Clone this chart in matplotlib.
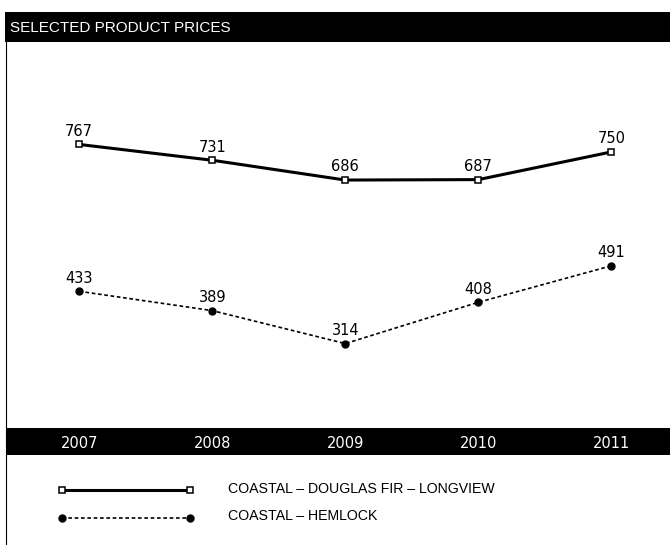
import matplotlib.pyplot as plt
from matplotlib.lines import Line2D

years = [2007, 2008, 2009, 2010, 2011]
douglas_fir = [767, 731, 686, 687, 750]
hemlock = [433, 389, 314, 408, 491]
series_names = ["COASTAL \u2013 DOUGLAS FIR \u2013 LONGVIEW", "COASTAL \u2013 HEMLOCK"]
title = "SELECTED PRODUCT PRICES"

W, H = 670, 545
fig = plt.figure(figsize=(W / 100, H / 100), dpi=100)
fig.patch.set_facecolor("white")


def box(x0, y0, x1, y1):
    # pixel box (top-left origin) -> figure fraction rect
    return [x0 / W, 1 - y1 / H, (x1 - x0) / W, (y1 - y0) / H]


narrow = ["Liberation Sans Narrow", "Liberation Sans", "DejaVu Sans"]

# title bar
tax = fig.add_axes(box(5, 12, 670, 42))
tax.set_facecolor("black")
tax.set_xticks([])
tax.set_yticks([])
for s in tax.spines.values():
    s.set_visible(False)
tax.text(0.008, 0.47, title, color="white", fontsize=11, family=narrow,
         va="center", ha="left", transform=tax.transAxes)

# main plot
ax = fig.add_axes(box(6, 42, 670, 428))
ax.set_xlim(2006.45, 2011.44)
ax.set_ylim(122, 1000)
ax.axis("off")

ax.plot(years, douglas_fir, color="black", lw=2.2, marker="s", ms=5,
        mfc="white", mec="black", mew=1.1, zorder=3)
ax.plot(years, hemlock, color="black", lw=1.2, linestyle=(0, (2.2, 1.6)),
        marker="o", ms=5, mfc="black", mec="black", zorder=3)

for x, v in zip(years, douglas_fir):
    ax.annotate(str(v), (x, v), xytext=(0, 4), textcoords="offset points",
                ha="center", va="bottom", fontsize=10.5, family="DejaVu Sans")
for x, v in zip(years, hemlock):
    ax.annotate(str(v), (x, v), xytext=(0, 4), textcoords="offset points",
                ha="center", va="bottom", fontsize=10.5, family="DejaVu Sans")

# year bar
yax = fig.add_axes(box(6, 428, 670, 455), sharex=ax)
yax.set_facecolor("black")
yax.set_ylim(0, 1)
yax.set_xticks([])
yax.set_yticks([])
for s in yax.spines.values():
    s.set_visible(False)
for x in years:
    yax.text(x, 0.42, str(x), color="white", fontsize=10.5, ha="center",
             va="center", family="DejaVu Sans")

# legend area
lax = fig.add_axes(box(0, 455, 670, 545))
lax.set_xlim(0, W)
lax.set_ylim(H, 455)
lax.axis("off")
lax.add_line(Line2D([62, 190], [490, 490], color="black", lw=2.2, marker="s",
                    ms=5, mfc="white", mec="black", mew=1.1))
lax.add_line(Line2D([62, 190], [518, 518], color="black", lw=1.2,
                    linestyle=(0, (2.2, 1.6)), marker="o", ms=5, mfc="black"))
lax.text(228, 489, series_names[0], fontsize=10.2, family=narrow, va="center")
lax.text(228, 516, series_names[1], fontsize=10.2, family=narrow, va="center")

# frame lines
fig.add_artist(Line2D([6 / W, 6 / W], [0, 1 - 42 / H], color="black", lw=0.8))

fig.savefig("out.png", dpi=100, facecolor="white")
